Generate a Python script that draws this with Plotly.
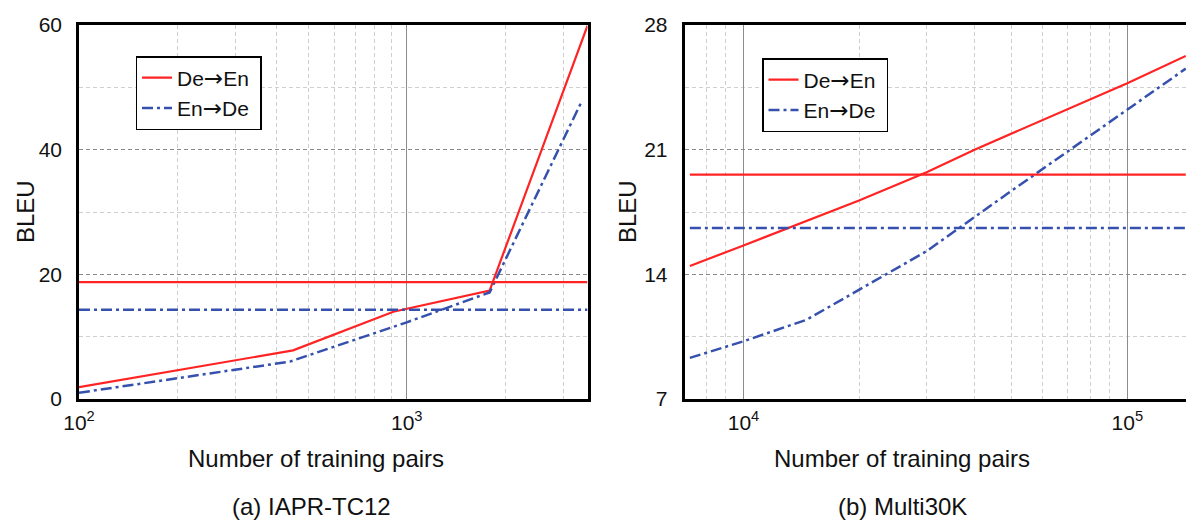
import math
import plotly.graph_objects as go

# ---------------- data ----------------
# (a) IAPR-TC12
a_x_de_en = [100, 450, 910, 1790, 3560]
a_y_de_en = [1.9, 7.8, 14.0, 17.4, 59.9]
a_x_en_de = [100, 440, 1000, 1790, 3400]
a_y_en_de = [1.0, 6.0, 12.3, 17.1, 47.5]
a_base_de_en = 18.75
a_base_en_de = 14.3

# (b) Multi30K
b_x_de_en = [7250, 10000, 20000, 30000, 40000, 100000, 142000]
b_y_de_en = [14.47, 15.62, 18.15, 19.73, 21.0, 24.73, 26.26]
b_x_en_de = [7250, 10000, 14600, 20000, 30000, 50000, 100000, 142000]
b_y_en_de = [9.31, 10.24, 11.45, 13.13, 15.3, 18.7, 23.22, 25.55]
b_base_de_en = 19.6
b_base_en_de = 16.6

a_yticks = [0, 20, 40, 60]
a_yminor = [10, 30, 50]
b_yticks = [7, 14, 21, 28]
b_yminor = [10.5, 17.5, 24.5]
a_xticks = [100, 1000]
a_xticktext = ["10<sup>2</sup>", "10<sup>3</sup>"]
a_xminor = [200, 300, 400, 500, 600, 700, 800, 900, 2000, 3000]
b_xticks = [10000, 100000]
b_xticktext = ["10<sup>4</sup>", "10<sup>5</sup>"]
b_xminor = [8000, 9000, 20000, 30000, 40000, 50000, 60000, 70000, 80000, 90000]

ARROW = "<span style='font-family:DejaVu Sans;font-size:23px'>→</span>"
labels = ["De" + ARROW + "En&nbsp;", "En" + ARROW + "De&nbsp;"]

# ---------------- styles ----------------
RED = "#ff2323"
BLUE = "#3551ad"
DASHDOT = "11px,4px,3px,4px"
FONT = "Liberation Sans, Arial, sans-serif"

fig = go.Figure()


def add_panel(xa, ya, xd, yd, xe, ye, bd, be, legend):
    xs = xd + xe
    xmin, xmax = min(xs), max(xs)
    fig.add_trace(go.Scatter(x=xd, y=yd, mode="lines", name=labels[0],
                             line=dict(color=RED, width=2.2),
                             xaxis=xa, yaxis=ya, legend=legend))
    fig.add_trace(go.Scatter(x=xe, y=ye, mode="lines", name=labels[1],
                             line=dict(color=BLUE, width=2.5, dash=DASHDOT),
                             xaxis=xa, yaxis=ya, legend=legend))
    fig.add_trace(go.Scatter(x=[xmin, xmax], y=[bd, bd], mode="lines",
                             line=dict(color=RED, width=2.2), showlegend=False,
                             xaxis=xa, yaxis=ya))
    fig.add_trace(go.Scatter(x=[xmin, xmax], y=[be, be], mode="lines",
                             line=dict(color=BLUE, width=2.5, dash=DASHDOT),
                             showlegend=False, xaxis=xa, yaxis=ya))


add_panel("x", "y", a_x_de_en, a_y_de_en, a_x_en_de, a_y_en_de,
          a_base_de_en, a_base_en_de, "legend")
add_panel("x2", "y2", b_x_de_en, b_y_de_en, b_x_en_de, b_y_en_de,
          b_base_de_en, b_base_en_de, "legend2")

L = 79
W = 1186 - L
TOP = 25
BOT = 399
H = BOT - TOP


def px(x):
    return (x - L) / W


def py(y):
    return (BOT - y) / H


tickfont = dict(family=FONT, size=21, color="#111")

common_x = dict(type="log", showline=True, linecolor="black", linewidth=2.5,
                ticks="", tickfont=tickfont, gridcolor="#8c8c8c", gridwidth=1.3,
                showgrid=True, zeroline=False, ticklabelstandoff=3)
common_y = dict(showline=True, linecolor="black", linewidth=2.5, ticks="",
                tickfont=tickfont, gridcolor="#8a8a8a", griddash="4px,3px",
                gridwidth=1, zeroline=False, ticklabelstandoff=10)

minor_style = dict(showgrid=True, gridcolor="#cfcfcf", griddash="4px,3px",
                   gridwidth=1, ticks="")

legend_style = dict(xanchor="left", yanchor="top", bgcolor="white",
                    bordercolor="black", borderwidth=1.5,
                    font=dict(family=FONT, size=21, color="#111"),
                    tracegroupgap=0, itemwidth=30)

fig.update_layout(
    width=1186, height=521,
    margin=dict(l=L, r=0, t=TOP, b=521 - BOT),
    plot_bgcolor="white", paper_bgcolor="white",
    font=dict(family=FONT, color="#111"),
    xaxis=dict(**common_x, domain=[0, px(587.5)], mirror=True,
               range=[2, math.log10(3560)], tickvals=a_xticks, ticktext=a_xticktext,
               minor=dict(tickvals=a_xminor, **minor_style), anchor="y"),
    yaxis=dict(**common_y, domain=[0, 1], mirror=True, range=[0, 60],
               tickvals=a_yticks, minor=dict(tickvals=a_yminor, **minor_style),
               anchor="x"),
    xaxis2=dict(**common_x, domain=[px(684.5), 1], mirror=True,
                range=[math.log10(7020), math.log10(142200)],
                tickvals=b_xticks, ticktext=b_xticktext,
                minor=dict(tickvals=b_xminor, **minor_style), anchor="y2"),
    yaxis2=dict(**common_y, domain=[0, 1], mirror=False, range=[7, 28],
                tickvals=b_yticks, minor=dict(tickvals=b_yminor, **minor_style),
                anchor="x2"),
    legend=dict(x=px(135.5), y=py(56), **legend_style),
    legend2=dict(x=px(762), y=py(58), **legend_style),
    showlegend=True,
)

title_font = dict(family=FONT, size=24, color="#111")
annos = [
    dict(text="BLEU", x=px(25), y=py(212), textangle=-90),
    dict(text="BLEU", x=px(627), y=py(212), textangle=-90),
    dict(text="Number of training pairs", x=px(316), y=py(458)),
    dict(text="Number of training pairs", x=px(902), y=py(458)),
    dict(text="(a) IAPR-TC12", x=px(311), y=py(506)),
    dict(text="(b) Multi30K", x=px(902), y=py(506)),
]
for a in annos:
    fig.add_annotation(xref="paper", yref="paper", showarrow=False,
                       xanchor="center", yanchor="middle", font=title_font, **a)

fig.write_html(
    "out.html",
    config={"displayModeBar": False},
    post_script="document.body.style.margin='0';document.body.style.overflow='hidden';",
)
